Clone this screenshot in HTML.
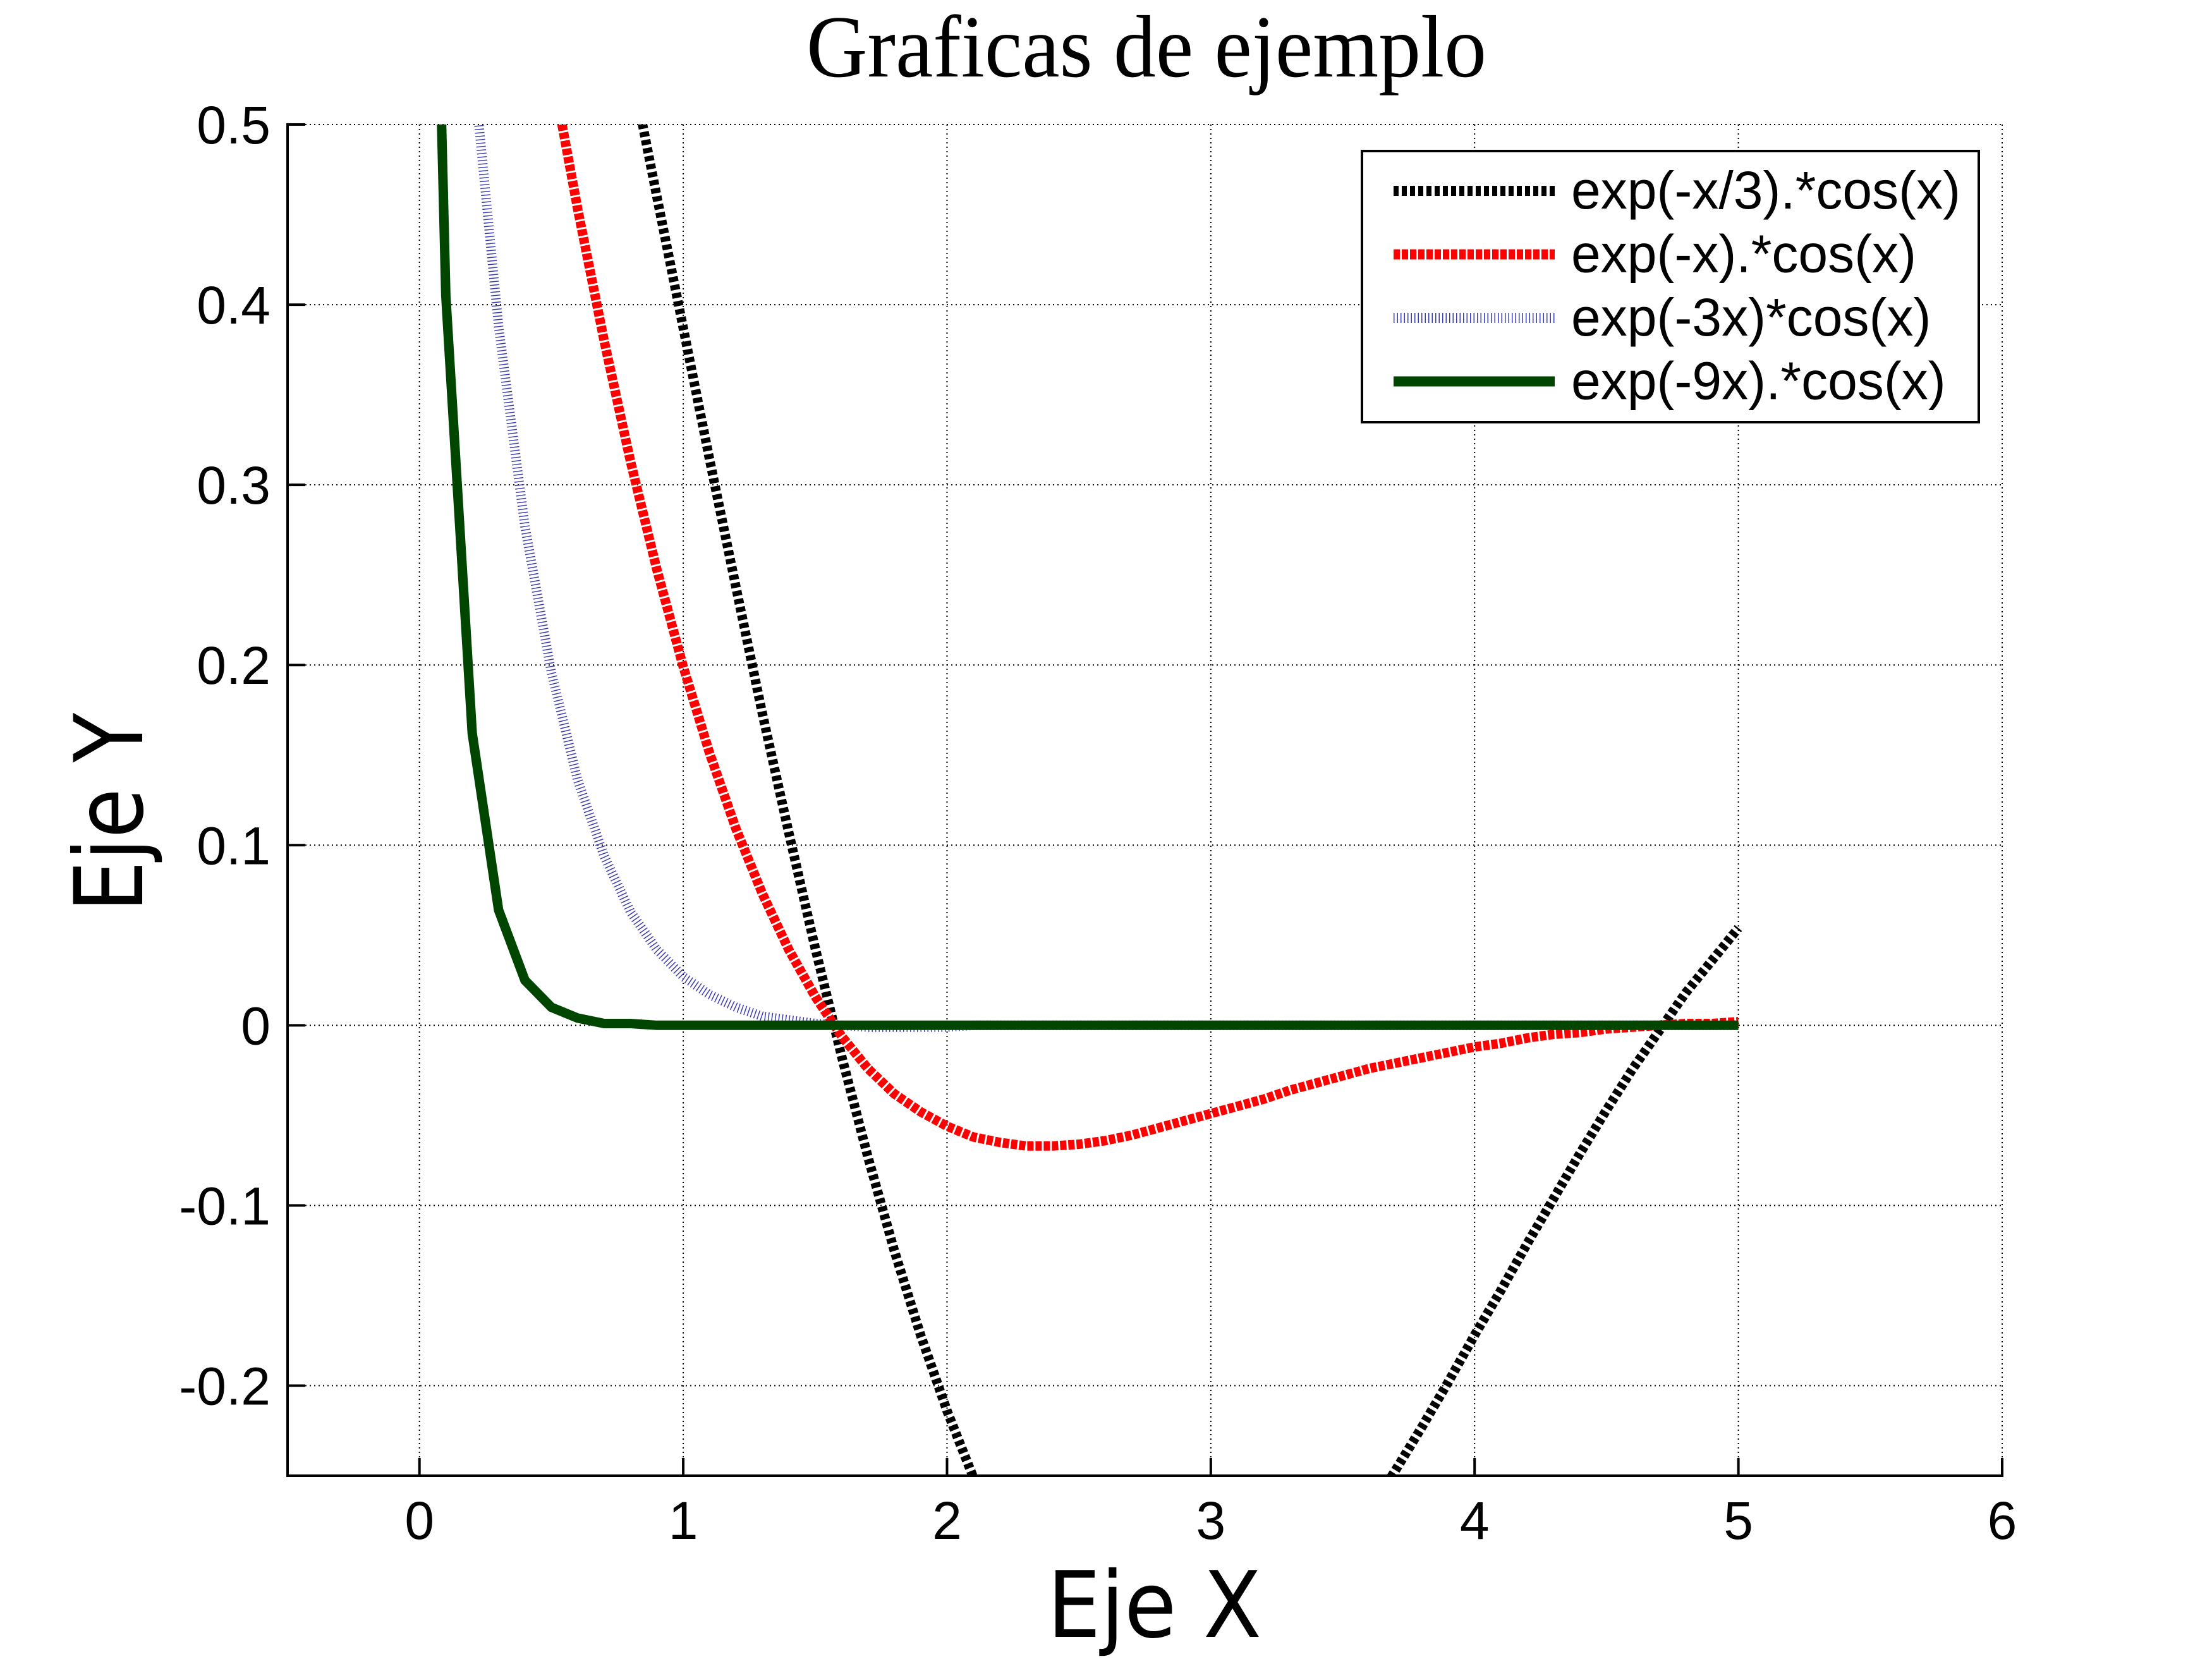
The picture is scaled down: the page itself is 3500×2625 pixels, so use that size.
<!DOCTYPE html>
<html><head><meta charset="utf-8"><title>Graficas de ejemplo</title>
<style>html,body{margin:0;padding:0;background:#fff;}svg{display:block;}</style></head>
<body>
<svg id="chart" width="3500" height="2625" viewBox="0 0 3500 2625" xmlns="http://www.w3.org/2000/svg">
<rect x="0" y="0" width="3500" height="2625" fill="#fff"/>
<text x="1276" y="121" font-family="Liberation Serif, serif" font-size="140" textLength="1076" lengthAdjust="spacingAndGlyphs" fill="#000">Graficas de ejemplo</text>
<g id="grid"></g>
<g id="axes"></g>
<defs><clipPath id="plotclip"><rect x="455" y="197" width="2713" height="2138"/></clipPath></defs>
<g id="series" clip-path="url(#plotclip)"></g>
<text x="1657" y="2590" font-family="DejaVu Sans, sans-serif" font-size="145" textLength="339" lengthAdjust="spacingAndGlyphs" fill="#000">Eje X</text>
<text transform="translate(225,1443) rotate(-90)" x="0" y="0" font-family="DejaVu Sans, sans-serif" font-size="150" textLength="315" lengthAdjust="spacingAndGlyphs" fill="#000">Eje Y</text>
<g id="legend"></g>
</svg>
<script>
const xs = [0,0.1,0.2,0.3,0.4,0.5,0.6,0.7,0.8,0.9,1.0,1.1,1.2,1.3,1.4,1.5,1.6,1.7,1.8,1.9,2.0,2.1,2.2,2.3,2.4,2.5,2.6,2.7,2.8,2.9,3.0,3.1,3.2,3.3,3.4,3.5,3.6,3.7,3.8,3.9,4.0,4.1,4.2,4.3,4.4,4.5,4.6,4.7,4.8,4.9,5.0];
const seriesBlack = [1.000,0.962,0.917,0.864,0.806,0.743,0.676,0.606,0.534,0.460,0.387,0.314,0.243,0.173,0.107,0.043,-0.017,-0.073,-0.125,-0.172,-0.214,-0.251,-0.283,-0.310,-0.331,-0.348,-0.360,-0.368,-0.370,-0.369,-0.364,-0.355,-0.344,-0.329,-0.311,-0.292,-0.270,-0.247,-0.223,-0.198,-0.172,-0.147,-0.121,-0.096,-0.071,-0.047,-0.024,-0.003,0.018,0.036,0.054];
const seriesRed = [1.000,0.900,0.802,0.708,0.617,0.532,0.453,0.380,0.313,0.253,0.199,0.151,0.109,0.073,0.042,0.016,-0.006,-0.024,-0.038,-0.048,-0.056,-0.062,-0.065,-0.067,-0.067,-0.066,-0.064,-0.061,-0.057,-0.053,-0.049,-0.045,-0.041,-0.036,-0.032,-0.028,-0.024,-0.021,-0.018,-0.015,-0.012,-0.010,-0.007,-0.005,-0.004,-0.002,-0.001,0.000,0.001,0.001,0.002];
const seriesBlue = [1.000,0.737,0.538,0.388,0.277,0.196,0.136,0.094,0.063,0.042,0.027,0.017,0.010,0.005,0.003,0.001,0.000,-0.001,-0.001,-0.001,-0.001,0,0,0,0,0,0,0,0,0,0,0,0,0,0,0,0,0,0,0,0,0,0,0,0,0,0,0,0,0,0];
const seriesGreen = [1.000,0.405,0.162,0.064,0.025,0.010,0.004,0.001,0.001,0,0,0,0,0,0,0,0,0,0,0,0,0,0,0,0,0,0,0,0,0,0,0,0,0,0,0,0,0,0,0,0,0,0,0,0,0,0,0,0,0,0];
const xTicks = [0,1,2,3,4,5,6];
const yTicks = [-0.2,-0.1,0,0.1,0.2,0.3,0.4,0.5];
const yTickLabels = ["-0.2","-0.1","0","0.1","0.2","0.3","0.4","0.5"];
const legendLabels = ["exp(-x/3).*cos(x)","exp(-x).*cos(x)","exp(-3x)*cos(x)","exp(-9x).*cos(x)"];

const NS = "http://www.w3.org/2000/svg";
const L = 455, R = 3168, T = 197, B = 2335;
const XMIN = -0.5, XMAX = 6, YMIN = -0.25, YMAX = 0.5;
function sx(v){ return L + (v - XMIN) / (XMAX - XMIN) * (R - L); }
function sy(v){ return B - (v - YMIN) / (YMAX - YMIN) * (B - T); }
function mk(tag, attrs, parent){ const e = document.createElementNS(NS, tag); for (const k in attrs) e.setAttribute(k, attrs[k]); parent.appendChild(e); return e; }

const grid = document.getElementById('grid');
const axes = document.getElementById('axes');
xTicks.forEach(function(t){
  const g = mk('line', {x1: sx(t), x2: sx(t), y1: T, y2: B, stroke: '#000', 'stroke-width': 2, 'stroke-dasharray': '2 5'}, grid);
  
  
  const tk = mk('line', {x1: sx(t), x2: sx(t), y1: B, y2: B - 28, stroke: '#000', 'stroke-width': 4}, axes);
  
  
  const lb = mk('text', {x: sx(t), y: 2435, 'text-anchor': 'middle', 'font-family': 'Liberation Sans, sans-serif', 'font-size': 84, fill: '#000'}, axes);
  lb.textContent = String(t);
  
  
});
yTicks.forEach(function(t, i){
  const g = mk('line', {x1: L, x2: R, y1: sy(t), y2: sy(t), stroke: '#000', 'stroke-width': 2, 'stroke-dasharray': '2 5'}, grid);
  
  
  const tk = mk('line', {x1: L, x2: L + 28, y1: sy(t), y2: sy(t), stroke: '#000', 'stroke-width': 4}, axes);
  
  
  const lb = mk('text', {x: 428, y: sy(t) + 30, 'text-anchor': 'end', 'font-family': 'Liberation Sans, sans-serif', 'font-size': 84, fill: '#000'}, axes);
  lb.textContent = yTickLabels[i];
  
  
});
const xa = mk('line', {x1: L - 2, x2: R + 2, y1: B, y2: B, stroke: '#000', 'stroke-width': 4}, axes);


const ya = mk('line', {x1: L, x2: L, y1: T - 2, y2: B + 2, stroke: '#000', 'stroke-width': 4}, axes);



const styles = [
  {data: seriesBlack, color: '#000', w: 15, dash: '8 5', name: 'series-exp-x3'},
  {data: seriesRed, color: '#ff0000', w: 15, dash: '10 3', name: 'series-exp-x'},
  {data: seriesBlue, color: '#3a3ab0', w: 15, dash: '1.5 4', name: 'series-exp-3x'},
  {data: seriesGreen, color: '#004600', w: 15, dash: 'none', name: 'series-exp-9x'}
];
const sg = document.getElementById('series');
const drawOrder = [0, 1, 2, 3];
drawOrder.forEach(function(i){
  const s = styles[i];
  const d = s.data.map(function(v, k){ return (k ? 'L' : 'M') + sx(xs[k]).toFixed(1) + ',' + sy(v).toFixed(1); }).join(' ');
  const p = mk('path', {d: d, fill: 'none', stroke: s.color, 'stroke-width': s.w, 'stroke-dasharray': s.dash}, sg);
  
  
});

const lg = document.getElementById('legend');
const box = mk('rect', {x: 2155, y: 239, width: 976, height: 429, fill: '#fff', stroke: '#000', 'stroke-width': 4}, lg);


legendLabels.forEach(function(lbl, i){
  const cy = 302 + i * 100.5;
  const s = styles[i];
  const ln = mk('line', {x1: 2205, x2: 2460, y1: cy, y2: cy, stroke: s.color, 'stroke-width': 16, 'stroke-dasharray': s.dash}, lg);
  
  
  const tx = mk('text', {x: 2486, y: cy + 28, 'font-family': 'Liberation Sans, sans-serif', 'font-size': 84, fill: '#000'}, lg);
  tx.textContent = lbl;
  
  
});
</script>
</body></html>
